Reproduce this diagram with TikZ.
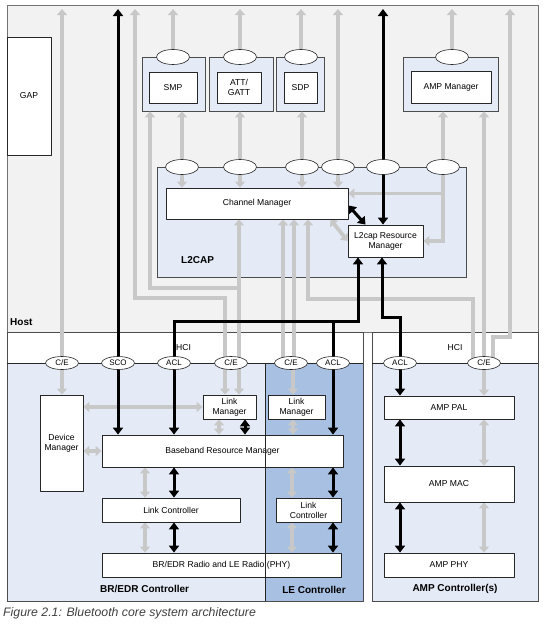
\documentclass[tikz,border=0pt]{standalone}
\usepackage{fontspec}
\setmainfont{Liberation Sans}
\usetikzlibrary{arrows.meta,shapes.geometric}
\definecolor{hostgray}{RGB}{242,242,242}
\definecolor{lightblue}{RGB}{228,235,246}
\definecolor{leblue}{RGB}{168,192,225}
\definecolor{linegray}{RGB}{200,200,200}
\definecolor{captiongray}{RGB}{64,64,64}
\pgfdeclarelayer{bg}
\pgfdeclarelayer{lines}
\pgfsetlayers{bg,lines,main}

\begin{document}
\begin{tikzpicture}[x=1pt,y=-1pt, line join=round,
    box/.style={draw=black!85, fill=white, line width=0.8pt, inner sep=1pt, align=center, font=\fontsize{8.6}{10}\selectfont},
    outerbox/.style={draw=black!70, fill=lightblue, line width=0.8pt},
    port/.style={ellipse, draw=black!85, fill=white, line width=0.6pt, minimum width=33pt, minimum height=13pt, inner sep=0pt, font=\fontsize{8}{8}\selectfont},
    region/.style={draw=black!70, line width=0.8pt},
    gline/.style={draw=linegray, line width=3.8pt},
    garrow/.style={gline, -{Triangle[width=10pt,length=6pt]}},
    gdouble/.style={gline, {Triangle[width=10pt,length=6pt]}-{Triangle[width=10pt,length=6pt]}},
    bline/.style={draw=black, line width=3pt},
    barrow/.style={bline, -{Triangle[width=10pt,length=7pt]}},
    bdouble/.style={bline, {Triangle[width=10pt,length=7pt]}-{Triangle[width=10pt,length=7pt]}},
    partlbl/.style={inner sep=0pt, font=\bfseries\fontsize{10}{12}\selectfont}]
    \useasboundingbox (0,0) rectangle (554,630);
    \coordinate (top) at (0,9);

    % host, controllers and L2CAP backgrounds
    \begin{pgfonlayer}{bg}
        \draw[draw=black!55, line width=0.8pt, fill=hostgray] (7,5) rectangle (538,332);
        \fill[lightblue] (7,363) rectangle (363,601);
        \fill[leblue] (265,363) rectangle (363,601);
        \draw[region] (7,332) rectangle (363,601);
        \draw[black!85] (7,363) -- (363,363);
        \fill[lightblue] (372,363) rectangle (538,601);
        \draw[region] (372,332) rectangle (538,601);
        \draw[black!85] (372,363) -- (538,363);
        \draw[outerbox] (157,167) rectangle (466,277);
        \node[outerbox, minimum width=63pt, minimum height=54pt] (smpo) at (173.5,84) {};
        \node[outerbox, minimum width=64pt, minimum height=54pt] (atto) at (241,84) {};
        \node[outerbox, minimum width=48pt, minimum height=54pt] (sdpo) at (300,84) {};
        \node[outerbox, minimum width=95pt, minimum height=54pt] (ampmo) at (450.5,84) {};
    \end{pgfonlayer}

    % host
    \node[box, minimum width=44pt, minimum height=118pt] (gap) at (29,96) {GAP};
    \node[box, minimum width=48pt, minimum height=31pt] (smp) at (173,87.5) {SMP};
    \node[box, minimum width=44pt, minimum height=31pt] (att) at (239,87.5) {ATT/\\GATT};
    \node[box, minimum width=33pt, minimum height=31pt] (sdp) at (300.5,87.5) {SDP};
    \node[box, minimum width=80pt, minimum height=32pt] (ampm) at (451,87) {AMP Manager};
    \foreach \n/\x in {pe1/173,pe2/240,pe3/301,pe4/452}
        \node[port, minimum height=15pt] (\n) at (\x,57) {};
    \foreach \n/\x in {le1/182,le2/240,le3/302,le4/338,le5/383,le6/443}
        \node[port, minimum height=15pt] (\n) at (\x,167) {};
    \node[box, minimum width=182pt, minimum height=31pt] (cm) at (257,203.5) {Channel Manager};
    \node[box, minimum width=75pt, minimum height=32pt] (rm) at (385.5,241) {L2cap Resource\\Manager};

    % HCI
    \node[port] (ce1) at (62,363) {C/E};
    \node[port] (sco) at (118,363) {SCO};
    \node[port] (acl1) at (174,363) {ACL};
    \node[port] (ce2) at (231,363) {C/E};
    \node[port] (ce3) at (291,363) {C/E};
    \node[port] (acl2) at (333,363) {ACL};
    \node[port] (acl3) at (400,363) {ACL};
    \node[port] (ce4) at (484,363) {C/E};

    % controllers
    \node[box, minimum width=43pt, minimum height=96pt] (dm) at (61.5,443) {Device\\Manager};
    \node[box, minimum width=53pt, minimum height=24pt] (lm1) at (229.5,407) {Link\\Manager};
    \node[box, minimum width=57pt, minimum height=24pt] (lm2) at (296.5,407) {Link\\Manager};
    \node[box, minimum width=241pt, minimum height=32pt] (brm) at (222.5,451) {Baseband Resource Manager};
    \node[box, minimum width=138pt, minimum height=24pt] (lc1) at (171,510) {Link Controller};
    \node[box, minimum width=65pt, minimum height=24pt] (lc2) at (308.5,510) {Link\\Controller};
    \node[box, minimum width=239pt, minimum height=24pt] (radio) at (221.5,565) {BR/EDR Radio and LE Radio (PHY)};
    \node[box, minimum width=130pt, minimum height=23pt] (pal) at (449,407.5) {AMP PAL};
    \node[box, minimum width=130pt, minimum height=36pt] (mac) at (449,484) {AMP MAC};
    \node[box, minimum width=130pt, minimum height=24pt] (phy) at (449,565) {AMP PHY};
    \draw[black!85, line width=0.8pt] (265,363) -- (265,601);

    \begin{pgfonlayer}{lines}
        % gray paths in the host
        \foreach \n in {ce1,pe1,pe2,pe3,pe4,le4}
            \draw[garrow] (\n.center) -- (\n |- top);
        \draw[garrow] ([xshift=-6pt]ce2.center) |- (135,298) -- (top -| 135,0);
        \draw[garrow] ([xshift=9pt]ce4.center) |- (510,337) -- (top -| 510,0);
        \foreach \n/\m in {le1/smpo,le2/atto,le3/sdpo,le6/ampmo,ce4/ampmo}
            \draw[garrow] (\n.center) -- (\n |- \m.south);
        \draw[garrow] ([xshift=8pt]ce2.center) |- (150,288) -- (smpo.south -| 150,0);
        \foreach \n in {le1,le2,le3,le4}
            \draw[garrow] (\n.center) -- (\n |- cm.north);
        \draw[garrow] ([xshift=8pt]ce2.center) -- ([xshift=8pt]ce2.center |- cm.south);
        \draw[garrow] ([xshift=-8pt]ce3.center) -- ([xshift=-8pt]ce3.center |- cm.south);
        \draw[garrow] ([xshift=3pt]ce3.center) -- ([xshift=3pt]ce3.center |- cm.south);
        \draw[garrow] ([xshift=-11pt]ce4.center) |- (308,299) -- (cm.south -| 308,0);
        \draw[garrow] (le6.center) |- (rm.east);
        \draw[garrow] (le6.center) |- ([yshift=10pt]cm.east);
        \draw[gdouble] ([xshift=-18pt]cm.south east) -- (rm.west);

        % gray paths in the controllers
        \draw[garrow] (ce1.center) -- (ce1 |- dm.north);
        \draw[garrow] ([xshift=-6pt]ce2.center) -- ([xshift=-6pt]ce2.center |- lm1.north);
        \draw[garrow] ([xshift=8pt]ce2.center) -- ([xshift=8pt]ce2.center |- lm1.north);
        \draw[garrow] ([xshift=2pt]ce3.center) -- ([xshift=2pt]ce3.center |- lm2.north);
        \draw[garrow] (ce4.center) -- (ce4 |- pal.north);
        \draw[gdouble] (lm1.west -| dm.east) -- (lm1.west);
        \draw[gdouble] (brm.west -| dm.east) -- (brm.west);
        \draw[gdouble] (lm1.south -| 219,0) -- (brm.north -| 219,0);
        \draw[gdouble] (lm2.south -| 293,0) -- (brm.north -| 293,0);
        \draw[gdouble] (brm.south -| 145,0) -- (lc1.north -| 145,0);
        \draw[gdouble] (lc1.south -| 145,0) -- (radio.north -| 145,0);
        \draw[gdouble] (brm.south -| 292,0) -- (lc2.north -| 292,0);
        \draw[gdouble] (lc2.south -| 292,0) -- (radio.north -| 292,0);
        \draw[gdouble] (pal.south -| ce4) -- (mac.north -| ce4);
        \draw[gdouble] (mac.south -| ce4) -- (phy.north -| ce4);

        % black paths
        \draw[barrow] (sco.center) -- (sco |- top);
        \draw[barrow] (le5.center) -- (le5 |- top);
        \draw[barrow] (le5.center) -- (le5 |- rm.north);
        \draw[barrow] (acl1.center) |- (358,321) -- (rm.south -| 358,0);
        \draw[bline] (acl2.center) -- (acl2 |- 0,321);
        \draw[barrow] (acl3.center) |- (382,317) -- (rm.south -| 382,0);
        \draw[bdouble] ([yshift=-2pt]cm.east) -- ([xshift=-20pt]rm.north);
        \draw[barrow] (sco.center) -- (sco |- brm.north);
        \draw[barrow] (acl1.center) -- (acl1 |- brm.north);
        \draw[barrow] (acl2.center) -- (acl2 |- brm.north);
        \draw[bdouble] (lm1.south -| 245,0) -- (brm.north -| 245,0);
        \draw[bdouble] (brm.south -| acl1) -- (lc1.north -| acl1);
        \draw[bdouble] (lc1.south -| acl1) -- (radio.north -| acl1);
        \draw[bdouble] (brm.south -| acl2) -- (lc2.north -| acl2);
        \draw[bdouble] (lc2.south -| acl2) -- (radio.north -| acl2);
        \draw[barrow] (acl3.center) -- (acl3 |- pal.north);
        \draw[bdouble] (pal.south -| acl3) -- (mac.north -| acl3);
        \draw[bdouble] (mac.south -| acl3) -- (phy.north -| acl3);
    \end{pgfonlayer}

    % labels
    \node[partlbl, anchor=west] (hostlbl) at (10,322) {Host};
    \node[partlbl, anchor=west] (l2caplbl) at (181,260) {L2CAP};
    \node[inner sep=0pt, anchor=west, font=\fontsize{8.6}{9}\selectfont] (hci1) at (176,348) {HCI};
    \node[inner sep=0pt, font=\fontsize{8.6}{9}\selectfont] (hci2) at (455,348) {HCI};
    \node[partlbl, anchor=west] (brlbl) at (100,589) {BR/EDR Controller};
    \node[partlbl] (lelbl) at (314,590) {LE Controller};
    \node[partlbl] (amplbl) at (455,589) {AMP Controller(s)};
    \node[inner sep=0pt, anchor=west, text=captiongray, font=\itshape\fontsize{12.3}{14}\selectfont] (caption) at (3,613) {Figure 2.1: Bluetooth core system architecture};
\end{tikzpicture}
\end{document}
